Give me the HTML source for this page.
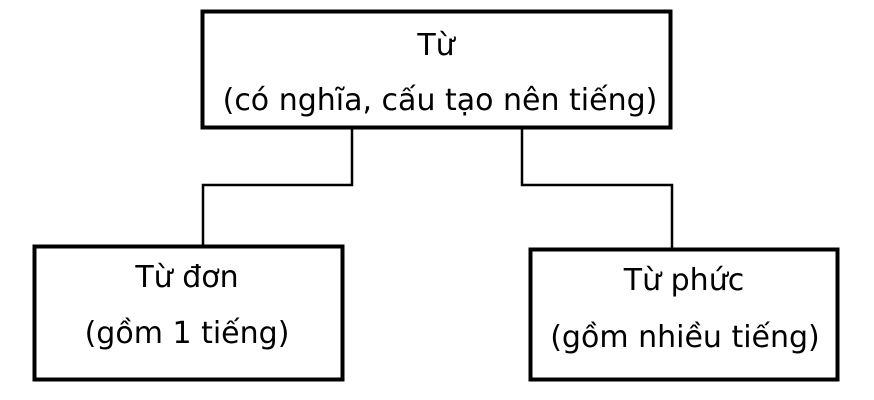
<!DOCTYPE html>
<html><head><meta charset="utf-8"><style>
html,body{margin:0;padding:0;background:#fff;}
svg{display:block}
text{font-family:"DejaVu Sans","Liberation Sans",sans-serif;font-size:30px;fill:#000;text-anchor:middle}
</style></head><body>
<svg width="874" height="400" viewBox="0 0 874 400">
<g fill="none" stroke="#000">
<rect x="202.5" y="11.5" width="468" height="116" stroke-width="4"/>
<rect x="34.5" y="246.5" width="308" height="133" stroke-width="4"/>
<rect x="530.5" y="249.5" width="307" height="130" stroke-width="4"/>
<polyline points="352,128 352,185 203,185 203,245" stroke-width="2.5"/>
<polyline points="522,128 522,185 672,185 672,248" stroke-width="2.5"/>
</g>
<text x="436" y="55">Từ</text>
<text x="440" y="110">(có nghĩa, cấu tạo nên tiếng)</text>
<text x="187" y="287">Từ đơn</text>
<text x="187" y="343">(gồm 1 tiếng)</text>
<text x="684" y="290">Từ phức</text>
<text x="685" y="347">(gồm nhiều tiếng)</text>
</svg>
</body></html>
